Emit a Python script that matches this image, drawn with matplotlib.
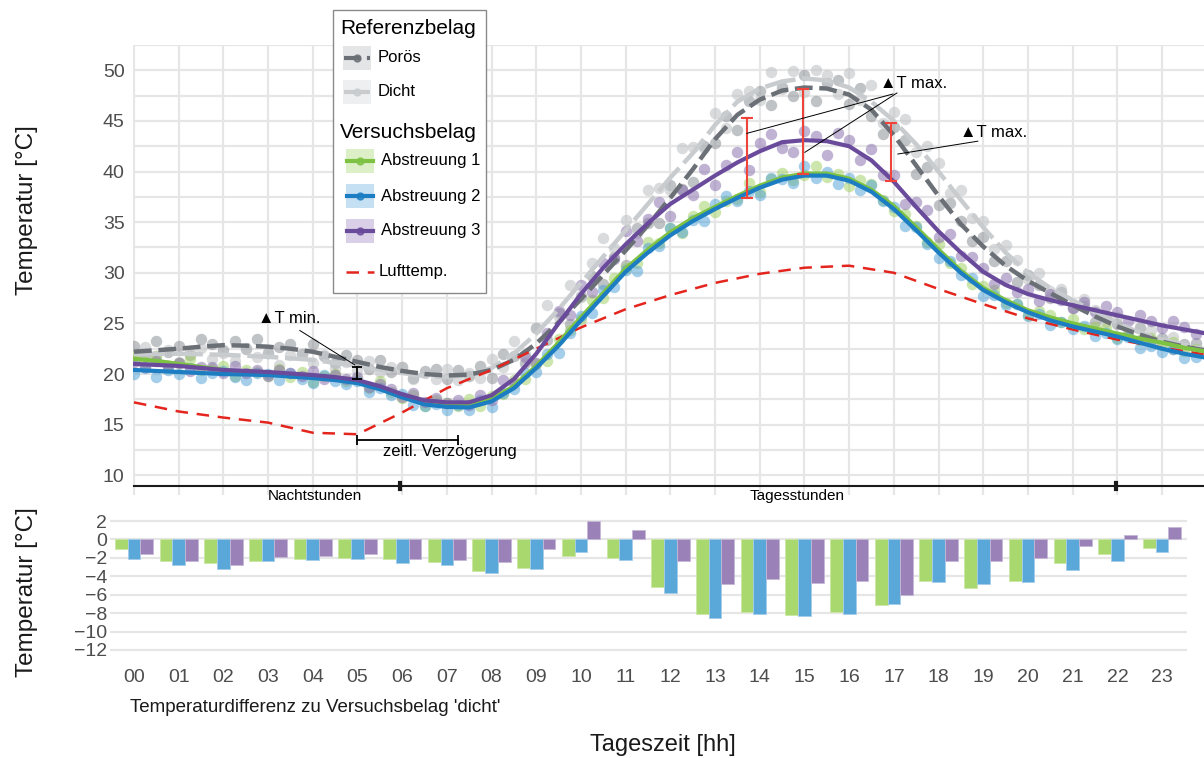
import numpy as np
import matplotlib
matplotlib.use("Agg")
import matplotlib.pyplot as plt
from matplotlib.lines import Line2D
from matplotlib.patches import Rectangle

plt.rcParams['font.family'] = ['Liberation Sans', 'DejaVu Sans']

W, H = 1204, 758

# smoothed curves, every half hour 00:00 .. 24:00
a1_fit = [21.5, 21.3, 21.0, 20.7, 20.4, 20.2, 20.1, 19.9, 19.8, 19.6, 19.3, 18.7, 17.9, 17.3, 17.0, 16.95,
          17.5, 18.8, 20.8, 23.1, 25.6, 28.0, 30.4, 32.3, 34.0, 35.4, 36.5, 37.6, 38.6, 39.4, 39.8, 39.8,
          39.3, 38.2, 36.6, 34.5, 32.3, 30.2, 28.5, 27.3, 26.3, 25.6, 25.0, 24.5, 24.0, 23.5, 23.1, 22.6, 22.2]
a2_fit = [20.4, 20.3, 20.2, 20.1, 20.0, 19.95, 19.9, 19.75, 19.6, 19.4, 19.1, 18.5, 17.7, 17.0, 16.75, 16.7,
          17.3, 18.6, 20.6, 22.8, 25.3, 27.7, 30.1, 32.0, 33.7, 35.1, 36.3, 37.4, 38.4, 39.2, 39.6, 39.6,
          39.1, 38.0, 36.3, 34.2, 32.0, 30.0, 28.3, 27.1, 26.1, 25.3, 24.7, 24.2, 23.7, 23.1, 22.5, 22.0, 21.6]
a3_fit = [21.0, 20.9, 20.8, 20.6, 20.4, 20.3, 20.2, 20.05, 19.9, 19.7, 19.4, 18.8, 18.0, 17.4, 17.2, 17.2,
          17.9, 19.5, 22.0, 25.0, 27.9, 30.5, 32.8, 34.9, 36.8, 38.2, 39.6, 40.9, 42.0, 42.9, 43.1, 43.0,
          42.5, 41.1, 39.0, 36.5, 34.1, 32.0, 30.1, 28.8, 27.9, 27.3, 26.8, 26.3, 25.8, 25.3, 24.8, 24.4, 24.0]
poros_fit = [22.2, 22.35, 22.5, 22.7, 22.85, 22.8, 22.7, 22.5, 22.2, 21.7, 21.2, 20.7, 20.3, 20.0, 19.85, 19.95,
             20.4, 21.4, 23.0, 25.1, 27.4, 29.8, 32.2, 34.7, 37.4, 40.2, 43.2, 45.6, 47.1, 48.0, 48.3, 48.2,
             47.6, 46.1, 43.6, 40.6, 37.6, 34.8, 32.6, 30.7, 29.2, 28.0, 26.8, 25.7, 24.7, 23.9, 23.2, 22.7, 22.3]
dicht_fit = [22.0, 22.0, 22.0, 21.95, 21.9, 21.8, 21.7, 21.55, 21.4, 21.1, 20.8, 20.4, 20.1, 19.8, 19.7, 19.9,
             20.6, 22.0, 24.0, 26.4, 29.0, 31.6, 34.2, 36.8, 39.4, 41.8, 44.6, 46.9, 48.2, 48.9, 49.2, 49.0,
             48.3, 46.9, 45.0, 42.7, 40.0, 37.2, 34.5, 32.0, 30.0, 28.5, 27.3, 26.1, 25.0, 24.1, 23.4, 22.9, 22.4]

# air temperature, hourly 00 .. 24
air_temp = [17.2, 16.3, 15.7, 15.2, 14.2, 14.05, 16.2, 18.6, 20.4, 22.5, 24.6, 26.4, 27.8, 29.0, 29.9,
            30.5, 30.7, 30.0, 28.4, 26.9, 25.5, 24.4, 23.4, 22.6, 21.9]

# measurements, every 15 min
a1_pts = [21.8, 21.2, 21.8, 20.8, 21.1, 21.5, 20.4, 20.5, 20.8, 19.8, 20.4, 20.2, 19.8, 20.5, 19.7, 20.2,
          19.2, 19.8, 20.0, 19.3, 19.5, 18.6, 19.3, 18.2, 17.6, 17.9, 16.8, 17.4, 17.1, 16.8, 17.5, 16.8,
          17.8, 18.0, 19.4, 19.5, 21.0, 21.3, 23.5, 24.3, 25.4, 27.3, 27.5, 29.5, 30.5, 31.0, 33.0, 32.9,
          34.4, 33.9, 35.6, 36.6, 36.0, 37.1, 37.3, 38.9, 38.0, 39.3, 39.9, 39.2, 39.7, 40.5, 39.5, 39.8,
          38.6, 39.2, 38.8, 37.2, 36.1, 35.8, 34.6, 33.0, 32.8, 31.0, 30.5, 28.9, 28.7, 28.3, 27.0, 26.9,
          25.8, 26.2, 25.8, 25.1, 25.4, 24.4, 24.6, 24.5, 23.6, 23.9, 23.4, 23.6, 22.9, 23.2, 22.3, 22.5]
a2_pts = [20.0, 20.6, 19.7, 20.4, 20.0, 20.6, 19.6, 20.1, 20.3, 19.7, 19.4, 20.1, 20.0, 19.4, 20.1, 19.5,
          19.1, 19.9, 19.3, 19.0, 19.3, 18.2, 18.6, 17.9, 18.0, 16.9, 16.8, 17.0, 16.4, 16.9, 16.4, 17.4,
          16.7, 18.1, 18.5, 20.1, 20.2, 22.0, 22.1, 24.1, 25.7, 26.0, 28.3, 28.6, 30.3, 30.2, 32.4, 32.6,
          34.4, 34.0, 35.2, 35.1, 36.8, 37.6, 37.1, 38.1, 37.7, 39.4, 39.3, 38.9, 40.5, 39.4, 40.0, 38.8,
          39.4, 38.2, 38.7, 37.1, 36.5, 34.6, 34.5, 32.8, 31.5, 31.2, 29.8, 29.5, 27.7, 27.8, 26.8, 26.9,
          25.7, 25.9, 24.8, 25.1, 24.4, 24.7, 23.8, 24.1, 23.5, 23.7, 22.6, 22.8, 22.2, 22.5, 21.6, 21.7]
a3_pts = [21.2, 20.7, 21.3, 20.8, 21.1, 20.3, 20.7, 20.7, 20.1, 20.8, 20.1, 20.4, 19.8, 20.4, 20.1, 19.8,
          20.3, 19.5, 19.9, 19.5, 19.7, 18.7, 19.0, 18.5, 17.7, 18.1, 17.2, 17.6, 17.1, 17.4, 16.9, 17.9,
          17.4, 19.4, 19.1, 21.7, 21.1, 24.1, 26.2, 25.8, 28.8, 28.1, 31.0, 31.4, 34.1, 33.1, 35.3, 37.0,
          35.6, 38.2, 37.7, 40.3, 38.7, 40.6, 41.9, 40.2, 42.8, 43.7, 42.3, 41.9, 44.0, 43.5, 41.6, 43.8,
          43.1, 41.1, 42.2, 39.7, 39.7, 36.8, 37.0, 36.2, 33.5, 33.8, 31.7, 31.6, 30.5, 28.9, 29.5, 28.1,
          28.4, 27.2, 27.9, 27.3, 26.5, 27.1, 26.1, 26.7, 26.1, 25.2, 25.8, 25.2, 24.5, 25.2, 24.6, 24.0]
poros_pts = [22.8, 21.9, 23.3, 22.2, 22.8, 21.9, 23.5, 23.0, 22.4, 23.3, 22.5, 23.5, 22.1, 22.7, 23.0, 22.0,
             23.0, 21.8, 21.1, 21.9, 21.4, 20.5, 21.4, 20.2, 20.7, 19.6, 20.3, 20.5, 19.5, 20.4, 19.8, 20.8,
             19.6, 22.0, 21.8, 21.1, 24.5, 23.4, 26.0, 24.9, 27.7, 29.7, 28.9, 31.6, 30.8, 34.4, 34.9, 34.9,
             38.7, 38.3, 39.0, 42.5, 42.8, 45.5, 44.1, 47.0, 48.0, 46.6, 48.4, 47.5, 49.5, 47.0, 48.7, 49.0,
             46.7, 48.3, 45.5, 43.7, 44.4, 43.1, 39.8, 40.4, 36.7, 36.9, 35.1, 33.1, 33.5, 31.2, 31.2, 29.1,
             29.8, 28.8, 27.5, 28.1, 26.5, 26.7, 25.1, 25.7, 24.9, 23.9, 24.5, 23.4, 23.6, 22.5, 23.0, 23.1]
dicht_pts = [21.5, 22.7, 21.8, 22.4, 21.2, 22.3, 22.6, 21.5, 22.1, 21.3, 22.6, 21.7, 22.1, 20.9, 21.9, 22.0,
             21.1, 21.9, 20.6, 21.2, 20.4, 21.3, 20.2, 20.7, 20.7, 19.5, 20.1, 19.5, 20.5, 19.4, 20.1, 19.6,
             21.5, 20.7, 23.3, 22.0, 24.5, 26.8, 25.6, 28.8, 27.6, 31.0, 33.4, 32.4, 35.2, 33.9, 38.2, 38.4,
             38.2, 42.3, 42.4, 42.3, 45.8, 44.3, 47.7, 48.0, 47.1, 49.8, 48.2, 49.9, 47.9, 50.0, 49.5, 47.7,
             49.7, 47.1, 48.5, 44.8, 45.9, 45.2, 41.9, 42.5, 40.8, 37.9, 38.2, 35.4, 35.1, 32.3, 32.7, 31.3,
             29.4, 30.0, 28.2, 28.4, 26.8, 27.4, 26.3, 25.1, 25.6, 24.2, 24.6, 24.3, 23.0, 23.7, 22.7, 23.0]

# hourly difference to 'dicht'
diff_a1 = [-1.07, -2.32, -2.57, -2.32, -2.14, -1.96, -2.07, -2.43, -3.46, -3.1, -1.75, -1.96,
           -5.2, -8.07, -7.86, -8.21, -7.86, -7.07, -4.54, -5.32, -4.46, -2.57, -1.57, -0.96]
diff_a2 = [-2.07, -2.82, -3.21, -2.39, -2.25, -2.1, -2.57, -2.75, -3.6, -3.18, -1.32, -2.25,
           -5.8, -8.57, -8.07, -8.36, -8.07, -7.04, -4.57, -4.89, -4.57, -3.36, -2.32, -1.36]
diff_a3 = [-1.57, -2.39, -2.75, -1.89, -1.75, -1.57, -2.07, -2.2, -2.46, -1.0, 1.96, 1.07,
           -2.29, -4.79, -4.29, -4.71, -4.54, -6.04, -2.32, -2.39, -1.96, -0.71, 0.46, 1.36]

# annotation markers
dtmax_x = [13.71, 14.97, 16.93]
dtmax_lo = [37.35, 39.8, 39.1]
dtmax_hi = [45.3, 48.2, 44.8]
dtmin = (5.0, 19.5, 20.7)
delay = (4.98, 7.24, 13.5)

hours = np.arange(24)
hour_labels = [f"{h:02d}" for h in hours]
t_fit = np.arange(0, 24.01, 0.5)
t_pts = np.arange(0, 24, 0.25)
t_air = np.arange(25)

C_A1, C_A2, C_A3 = '#7dc242', '#1c7dc2', '#6a4b9b'
C_POR, C_DICHT, C_AIR = '#6b7077', '#c9cccf', '#e3251e'


def fx(px):
    return px / W


def fy(py):
    return 1 - py / H


fig = plt.figure(figsize=(W / 100, H / 100), dpi=100)

# ---- top: temperature course
ax = fig.add_axes([fx(133), fy(495), fx(1204) - fx(133), fy(45) - fy(495)])
ax.set_xlim(-0.022, 23.94)
ax.set_ylim(8.05, 51.85)
ax.set_xticks(hours)
ax.set_xticklabels([])
ax.set_yticks(range(10, 51, 5))
ax.set_yticks(np.arange(10, 52.6, 2.5), minor=True)
ax.grid(which='major', color='#e6e6e6', lw=1.6)
ax.grid(which='minor', axis='y', color='#e6e6e6', lw=1.6)
ax.set_axisbelow(True)
ax.tick_params(which='both', length=0, labelsize=14, labelcolor='#4d4d4d', pad=6)
for s in ax.spines.values():
    s.set_visible(False)

ax.scatter(t_pts, poros_pts, s=68, color='#8d9297', alpha=0.55, lw=0, zorder=2)
ax.scatter(t_pts, dicht_pts, s=68, color='#c0c3c6', alpha=0.6, lw=0, zorder=2)
ax.scatter(t_pts, a1_pts, s=68, color='#9ccf5c', alpha=0.5, lw=0, zorder=3)
ax.scatter(t_pts, a2_pts, s=68, color='#4a9fd6', alpha=0.5, lw=0, zorder=3)
ax.scatter(t_pts, a3_pts, s=68, color='#8c74b0', alpha=0.55, lw=0, zorder=3)

ax.plot(t_fit, dicht_fit, color=C_DICHT, lw=3.2, dashes=(7, 1.5), zorder=4)
ax.plot(t_fit, poros_fit, color=C_POR, lw=3.2, dashes=(4, 1.5), zorder=4)
ax.plot(t_air, air_temp, color=C_AIR, lw=1.8, dashes=(5, 3.5), zorder=5)
ax.plot(t_fit, a1_fit, color=C_A1, lw=3, zorder=6)
ax.plot(t_fit, a2_fit, color=C_A2, lw=3, zorder=6)
ax.plot(t_fit, a3_fit, color=C_A3, lw=3, zorder=6)

# dT max bars
for x, lo, hi in zip(dtmax_x, dtmax_lo, dtmax_hi):
    ax.plot([x, x], [lo, hi], color='#f0433a', lw=1.5, zorder=7)
    ax.plot([x, x], [lo, hi], ls='none', marker='_', ms=8, mew=1.5, color='#f0433a', zorder=7)
ax.plot([dtmin[0]] * 2, dtmin[1:], color='black', lw=1.3, zorder=7)
ax.plot([dtmin[0]] * 2, dtmin[1:], ls='none', marker='_', ms=7, mew=1.3, color='black', zorder=7)
ax.plot(delay[:2], [delay[2]] * 2, color='black', lw=1.3, zorder=7)
ax.plot(delay[:2], [delay[2]] * 2, ls='none', marker='|', ms=7, mew=1.3, color='black', zorder=7)

# leader lines + labels
ax.plot([3.71, 4.94], [24.3, 20.9], color='black', lw=0.7, zorder=7)
ax.plot([16.98, 13.71], [47.66, 43.77], color='black', lw=0.7, zorder=7)
ax.plot([17.07, 15.01], [47.76, 41.9], color='black', lw=0.7, zorder=7)
ax.plot([18.88, 17.09], [43.0, 41.73], color='black', lw=0.7, zorder=7)
ax.text(2.77, 25.5, "▲T min.", fontsize=12, va='center', zorder=8)
ax.text(16.69, 48.7, "▲T max.", fontsize=12, va='center', zorder=8)
ax.text(18.48, 43.87, "▲T max.", fontsize=12, va='center', zorder=8)
ax.text(5.57, 12.34, "zeitl. Verzögerung", fontsize=12, va='center', zorder=8)

# night / day bar
ax.plot([0, 23.94], [8.93, 8.93], color='#1a1a1a', lw=1.5, clip_on=False, zorder=5)
for x in (5.95, 21.97):
    ax.plot([x, x], [8.6, 9.25], color='#1a1a1a', lw=3, clip_on=False, zorder=5)
ax.text(4.05, 7.95, "Nachtstunden", fontsize=11, ha='center', va='center', clip_on=False)
ax.text(14.83, 7.95, "Tagesstunden", fontsize=11, ha='center', va='center', clip_on=False)

# ---- bottom: differences
bx = fig.add_axes([fx(110), fy(655.5), fx(1187) - fx(110), fy(515.5) - fy(655.5)])
bx.set_xlim(-0.537, 23.557)
bx.set_ylim(-12.6, 2.6)
bw = 0.285
bx.bar(hours - bw, diff_a1, bw, color='#a9d86e', edgecolor='#cbe7a6', lw=0.6)
bx.bar(hours, diff_a2, bw, color='#5aa8d9', edgecolor='#a4cdea', lw=0.6)
bx.bar(hours + bw, diff_a3, bw, color='#9a82b8', edgecolor='#c6b8d8', lw=0.6)
bx.set_yticks(range(-12, 3, 2))
bx.set_xticks(hours, hour_labels)
bx.yaxis.grid(True, color='#e6e6e6', lw=1.6)
bx.set_axisbelow(True)
bx.tick_params(length=0, labelsize=14, labelcolor='#4d4d4d')
bx.tick_params(axis='x', pad=10)
bx.tick_params(axis='y', pad=2)
for s in bx.spines.values():
    s.set_visible(False)

# ---- labels
fig.text(fx(27), fy(210), "Temperatur [°C]", rotation=90, ha='center', va='center', fontsize=17.5, color='#1a1a1a')
fig.text(fx(27), fy(592), "Temperatur [°C]", rotation=90, ha='center', va='center', fontsize=17.5, color='#1a1a1a')
fig.text(fx(663), fy(745), "Tageszeit [hh]", ha='center', va='center', fontsize=17, color='#1a1a1a')
fig.text(fx(130), fy(707), "Temperaturdifferenz zu Versuchsbelag 'dicht'", ha='left', va='center',
         fontsize=13.5, color='#1a1a1a')

# ---- legend (drawn by hand)
fig.add_artist(Rectangle((fx(333), fy(293)), fx(486) - fx(333), fy(10) - fy(293), transform=fig.transFigure,
                         facecolor='white', edgecolor='#8a8a8a', lw=1, zorder=10))
fig.text(fx(340), fy(29), "Referenzbelag", fontsize=15, va='center', zorder=11)
fig.text(fx(340), fy(132), "Versuchsbelag", fontsize=15, va='center', zorder=11)

leg_items = [
    ("Porös", 58, 343, '#e4e5e7', C_POR, (4, 1.5)),
    ("Dicht", 92, 343, '#eeeff0', C_DICHT, (7, 1.5)),
    ("Abstreuung 1", 161, 346, '#dcefc7', C_A1, None),
    ("Abstreuung 2", 196, 346, '#c6e0f3', C_A2, None),
    ("Abstreuung 3", 231, 346, '#d9cfe6', C_A3, None),
]
for label, yc, x0, bg, col, dash in leg_items:
    fig.add_artist(Rectangle((fx(x0), fy(yc + 12)), fx(28), fy(0) - fy(24), transform=fig.transFigure,
                             facecolor=bg, edgecolor='none', zorder=11))
    ln = Line2D([fx(x0 + 1), fx(x0 + 27)], [fy(yc), fy(yc)], transform=fig.transFigure,
                color=col, lw=3, zorder=12)
    if dash:
        ln.set_dashes(dash)
    fig.add_artist(ln)
    fig.add_artist(Line2D([fx(x0 + 14)], [fy(yc)], transform=fig.transFigure, marker='o', ms=5,
                          color=col, alpha=0.8, lw=0, zorder=13))
    fig.text(fx(x0 + 35), fy(yc), label, fontsize=12, va='center', zorder=12)

air_ln = Line2D([fx(346), fx(374)], [fy(272), fy(272)], transform=fig.transFigure, color=C_AIR, lw=1.8, zorder=12)
air_ln.set_dashes((5, 3.5))
fig.add_artist(air_ln)
fig.text(fx(379), fy(272), "Lufttemp.", fontsize=12, va='center', zorder=12)

fig.savefig("out.png", dpi=100)
